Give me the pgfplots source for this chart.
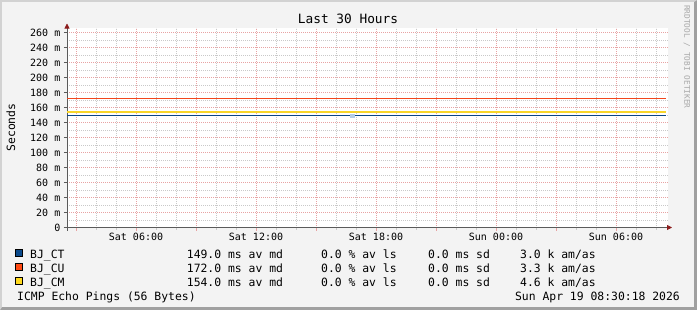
\documentclass[border=0pt]{standalone}
\usepackage{fontspec}
\setmainfont{DejaVu Sans Mono}
\usepackage{pgfplots}
\pgfplotsset{compat=1.18}
\usetikzlibrary{arrows.meta}
\definecolor{bg}{HTML}{F3F3F3}
\definecolor{shadeA}{HTML}{D2D2D2}
\definecolor{shadeB}{HTML}{A0A0A0}
\definecolor{mgrid}{HTML}{E8A3A3}
\definecolor{ngrid}{HTML}{C9C9C9}
\definecolor{axiscol}{HTML}{5A5A5A}
\definecolor{arrowcol}{HTML}{8B1A1A}
\definecolor{linect}{HTML}{0B4585}
\definecolor{linecu}{HTML}{F2461C}
\definecolor{linecm}{HTML}{F8D52A}
\definecolor{ctbox}{HTML}{0B4A8C}
\definecolor{cubox}{HTML}{FF4A14}
\definecolor{cmbox}{HTML}{FFD91E}
\definecolor{smoke}{HTML}{B4CCE6}
\definecolor{wm}{HTML}{A8A8A8}
\newcommand\fax{\fontsize{10bp}{12bp}\selectfont}
\newcommand\fleg{\fontsize{11.4bp}{13bp}\selectfont}
\newcommand\ftit{\fontsize{12.8bp}{15bp}\selectfont}
\newcommand\fwm{\fontsize{7.8bp}{9bp}\selectfont}
\begin{document}
\begin{tikzpicture}
\path[use as bounding box] (0,0) rectangle (697bp,-310bp);
\fill[shadeB] (0,0) rectangle (697bp,-310bp);
\fill[shadeA] (0,0) -- (697bp,0) -- (694bp,-2bp) -- (2bp,-2bp) -- (2bp,-307bp) -- (0,-310bp) -- cycle;
\fill[bg] (2bp,-2bp) rectangle (694bp,-307bp);
\begin{axis}[
  at={(67bp,-227.5bp)}, anchor=south west,
  scale only axis, width=601bp, height=200bp,
  xmin=2.55, xmax=32.6, ymin=0, ymax=266.7,
  axis x line=bottom, axis y line=left,
  axis line style={axiscol, line width=0.8bp, shorten >=-4bp, shorten <=-3bp},
  x axis line style={-{Triangle[length=5bp,width=5bp,color=arrowcol]}},
  y axis line style={-{Triangle[length=5bp,width=5bp,color=arrowcol]}},
  axis background/.style={fill=white},
  xtick={3,6,...,30},
  xticklabels={,Sat 06:00,,Sat 12:00,,Sat 18:00,,Sun 00:00,,Sun 06:00},
  minor xtick={4,5,7,8,10,11,13,14,16,17,19,20,22,23,25,26,28,29,31,32},
  ytick={0,20,...,260},
  yticklabels={0,20 m,40 m,60 m,80 m,100 m,120 m,140 m,160 m,180 m,200 m,220 m,240 m,260 m},
  minor ytick={10,30,...,250},
  grid=both,
  major grid style={mgrid, line width=0.8bp, dash pattern=on 1bp off 1bp},
  minor grid style={ngrid, line width=0.8bp, dash pattern=on 1bp off 1bp},
  tick align=outside,
  major tick length=3bp, minor tick length=2bp,
  major x tick style={mgrid, line width=0.8bp},
  minor x tick style={ngrid, line width=0.8bp},
  major y tick style={axiscol, line width=0.8bp},
  minor y tick style={draw=none},
  xticklabel style={font=\fax, anchor=base, inner sep=0pt, yshift=-10bp},
  yticklabel style={font=\fax, anchor=east, inner sep=0pt, xshift=-3.5bp},
]
\addplot[smoke, only marks, mark=square*, mark size=1.8bp, mark options={draw=smoke, fill=smoke}] coordinates {(16.8,149)};
\addplot[linect, line width=1.2bp] coordinates {(2.55,149) (8,149) (14,149) (20,149) (26,149) (32.5,149)};
\addplot[linecu, line width=1.2bp] coordinates {(2.55,172) (8,172) (14,172) (20,172) (26,172) (32.5,172)};
\addplot[linecm, line width=1.2bp] coordinates {(2.55,154) (8,154) (14,154) (20,154) (26,154) (32.5,154)};
\end{axis}
\node[anchor=base, inner sep=0pt] at (348bp,-23.5bp) {\ftit Last 30 Hours};
\node[rotate=90, anchor=base, inner sep=0pt] at (15bp,-127.5bp) {\fleg Seconds};
\node[rotate=-90, anchor=base west, inner sep=0pt, text=wm] at (684.3bp,-5bp) {\fwm RRDTOOL / TOBI OETIKER};
% legend
\filldraw[fill=ctbox, draw=black, line width=0.8bp] (15.5bp,-249.5bp) rectangle (22.5bp,-256.5bp);
\filldraw[fill=cubox, draw=black, line width=0.8bp] (15.5bp,-263.5bp) rectangle (22.5bp,-270.5bp);
\filldraw[fill=cmbox, draw=black, line width=0.8bp] (15.5bp,-277.5bp) rectangle (22.5bp,-284.5bp);
\begin{scope}[every node/.style={inner sep=0pt, anchor=base west, font=\fleg}]
\node at (30bp,-258.5bp) {BJ\_CT};
\node at (186.7bp,-258.5bp) {149.0 ms av md};
\node at (321bp,-258.5bp) {0.0 \% av ls};
\node at (428bp,-258.5bp) {0.0 ms sd};
\node at (520bp,-258.5bp) {3.0 k am/as};
\node at (30bp,-272.5bp) {BJ\_CU};
\node at (186.7bp,-272.5bp) {172.0 ms av md};
\node at (321bp,-272.5bp) {0.0 \% av ls};
\node at (428bp,-272.5bp) {0.0 ms sd};
\node at (520bp,-272.5bp) {3.3 k am/as};
\node at (30bp,-286.5bp) {BJ\_CM};
\node at (186.7bp,-286.5bp) {154.0 ms av md};
\node at (321bp,-286.5bp) {0.0 \% av ls};
\node at (428bp,-286.5bp) {0.0 ms sd};
\node at (520bp,-286.5bp) {4.6 k am/as};
\node at (17bp,-300.5bp) {ICMP Echo Pings (56 Bytes)};
\node[anchor=base east] at (680bp,-300.5bp) {Sun Apr 19 08:30:18 2026};
\end{scope}
\end{tikzpicture}
\end{document}
